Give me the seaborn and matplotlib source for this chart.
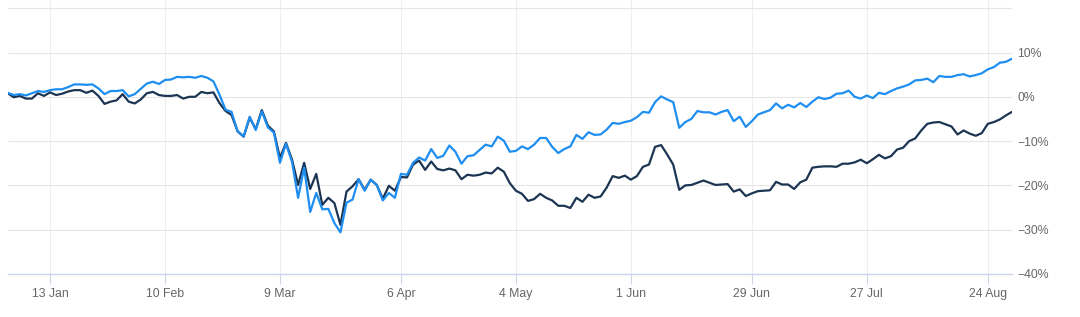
import numpy as np
import pandas as pd
import matplotlib
matplotlib.use("Agg")
import matplotlib.pyplot as plt
import seaborn as sns

# ---- data -------------------------------------------------------------
start_date = "2020-01-02"
end_date = "2020-08-28"
market_holidays = ["2020-01-20", "2020-02-17", "2020-04-10", "2020-05-25", "2020-07-03"]

tick_dates = ["2020-01-13", "2020-02-10", "2020-03-09", "2020-04-06", "2020-05-04",
              "2020-06-01", "2020-06-29", "2020-07-27", "2020-08-24"]
tick_labels = ["13 Jan", "10 Feb", "9 Mar", "6 Apr", "4 May", "1 Jun", "29 Jun", "27 Jul", "24 Aug"]

y_ticks = [-40, -30, -20, -10, 0, 10, 20]
y_tick_labels = ["\u221240%", "\u221230%", "\u221220%", "\u221210%", "0%", "10%", ""]

series_light = [
    0.9, 0.4, 0.6, 0.3, 0.8, 1.3, 1.1, 1.5, 1.7, 1.7,
    2.2, 2.8, 2.8, 2.7, 2.8, 1.9, 0.6, 1.3, 1.3, 1.5,
    0.1, 0.6, 1.8, 3.0, 3.4, 2.9, 3.8, 3.9, 4.5, 4.4,
    4.5, 4.3, 4.7, 4.3, 3.5, 0.5, -2.9, -3.4, -7.8, -8.9,
    -4.5, -7.5, -3.3, -6.9, -8.1, -14.9, -10.6, -14.7, -22.8, -16.0,
    -26.0, -21.7, -25.4, -25.3, -28.5, -30.6, -23.9, -23.2, -18.6, -21.2,
    -18.7, -19.9, -23.4, -21.7, -22.8, -17.4, -17.6, -14.9, -13.7, -14.4,
    -11.8, -13.8, -13.3, -11.0, -12.4, -15.1, -13.4, -13.2, -12.0, -10.8,
    -11.2, -9.0, -9.9, -12.4, -12.2, -11.2, -11.8, -10.8, -9.3, -9.3,
    -11.3, -12.7, -11.8, -11.2, -8.6, -9.5, -8.0, -8.6, -8.5, -7.4,
    -5.9, -6.1, -5.7, -5.4, -4.6, -3.4, -3.6, -1.2, 0.1, -0.6,
    -1.2, -7.0, -5.7, -5.0, -3.2, -3.5, -3.5, -4.0, -3.4, -3.0,
    -5.5, -4.5, -6.8, -5.5, -4.0, -3.5, -3.0, -1.5, -2.6, -1.8,
    -2.4, -1.4, -2.3, -1.1, -0.1, -0.5, -0.2, 0.7, 0.8, 1.4,
    0.0, -0.4, 0.3, -0.3, 0.9, 0.6, 1.3, 1.9, 2.3, 2.8,
    3.7, 3.8, 4.1, 3.3, 4.7, 4.5, 4.5, 4.9, 5.1, 4.6,
    4.9, 5.3, 6.2, 6.7, 7.7, 7.9, 8.6,
]

series_dark = [
    0.8, -0.1, 0.2, -0.4, -0.4, 0.8, 0.2, 1.0, 0.4, 0.7,
    1.2, 1.5, 1.5, 0.9, 1.4, 0.2, -1.6, -1.1, -0.8, 0.6,
    -1.1, -1.5, -0.6, 0.8, 1.1, 0.4, 0.2, 0.2, 0.4, -0.4,
    0.0, 0.0, 1.1, 0.8, 1.0, -1.4, -3.2, -4.1, -7.8, -9.0,
    -4.7, -7.3, -3.0, -6.5, -7.8, -13.8, -10.4, -14.2, -19.9, -14.9,
    -20.8, -17.4, -24.4, -22.8, -24.0, -28.9, -21.4, -20.2, -18.6, -21.0,
    -18.7, -19.9, -23.0, -20.1, -21.2, -18.1, -18.2, -15.3, -14.4, -16.5,
    -14.6, -16.3, -16.6, -16.2, -16.6, -18.6, -17.6, -17.8, -17.6, -17.1,
    -17.3, -16.0, -16.9, -19.5, -21.2, -21.9, -23.5, -23.1, -21.9, -22.8,
    -23.4, -24.6, -24.6, -25.1, -22.8, -23.7, -22.1, -22.8, -22.5, -20.5,
    -17.9, -18.3, -17.8, -18.7, -17.9, -15.8, -15.3, -11.3, -10.9, -13.0,
    -15.3, -21.0, -20.0, -19.9, -19.4, -18.9, -19.4, -19.9, -19.8, -19.7,
    -21.4, -20.9, -22.4, -21.8, -21.3, -21.2, -21.1, -19.2, -19.8, -19.8,
    -20.8, -19.3, -18.7, -16.0, -15.8, -15.7, -15.7, -15.8, -15.1, -15.1,
    -14.8, -14.2, -15.0, -14.1, -13.1, -13.9, -13.4, -11.9, -11.5, -10.0,
    -9.4, -7.6, -6.1, -5.8, -5.7, -6.2, -6.7, -8.5, -7.6, -8.3,
    -8.8, -8.2, -6.1, -5.7, -5.1, -4.2, -3.4,
]

# ---- build frame --------------------------------------------------------
trade_days = pd.bdate_range(start_date, end_date, freq="C", holidays=market_holidays)
n = len(trade_days)
df = pd.DataFrame({
    "pos": np.concatenate([np.arange(n), np.arange(n)]),
    "value": series_dark[:n] + series_light[:n],
    "series": ["dark"] * n + ["light"] * n,
})
tick_pos = [trade_days.get_loc(pd.Timestamp(d)) for d in tick_dates]

# ---- plot ---------------------------------------------------------------
sns.set_theme(style="white")
plt.rcParams["font.family"] = ["Liberation Sans", "DejaVu Sans"]

W, H = 1080, 317
fig = plt.figure(figsize=(W / 100, H / 100), dpi=100)
left, right, bottom, top = 7.7, 1012, 274, 0
ax = fig.add_axes([left / W, (H - bottom) / H, (right - left) / W, (bottom - top) / H])

palette = {"light": "#1f8ef1", "dark": "#1c3553"}
sns.lineplot(data=df, x="pos", y="value", hue="series", palette=palette,
             hue_order=["dark", "light"], linewidth=1.6, legend=False, ax=ax,
             solid_joinstyle="round", solid_capstyle="round", zorder=3)

ax.set_xlim(0, n - 1)
ax.set_ylim(-40, 274 / 4.43 - 40)

ax.set_xticks(tick_pos)
ax.set_xticklabels(tick_labels)
ax.set_yticks(y_ticks)
ax.set_yticklabels(y_tick_labels)
ax.yaxis.tick_right()

ax.set_xlabel("")
ax.set_ylabel("")

ax.grid(axis="y", color="#e6e6e6", linewidth=0.8)
ax.grid(axis="x", color="#eeeeee", linewidth=0.8)
ax.set_axisbelow(True)

for s in ["top", "left", "right"]:
    ax.spines[s].set_visible(False)
ax.spines["bottom"].set_color("#ccd6eb")
ax.spines["bottom"].set_linewidth(1.0)

ax.tick_params(axis="x", colors="#ccd6eb", length=7, width=0.8, pad=3,
               labelcolor="#666666", labelsize=8.8, bottom=True)
ax.tick_params(axis="y", length=0, pad=4, labelcolor="#666666", labelsize=8.8, right=False)

fig.savefig("out.png", dpi=100)
